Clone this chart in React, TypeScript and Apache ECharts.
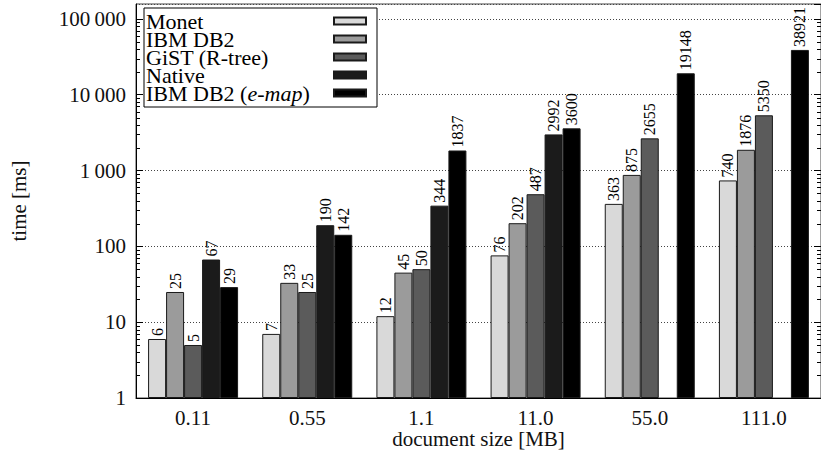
import React, { useEffect, useRef } from 'react';
import * as echarts from 'echarts';

const categories = ['0.11', '0.55', '1.1', '11.0', '55.0', '111.0'];
const seriesNames = ['Monet', 'IBM DB2', 'GiST (R-tree)', 'Native', 'IBM DB2 (e-map)'];
const monet = [6, 7, 12, 76, 363, 740];
const ibmDb2 = [25, 33, 45, 202, 875, 1876];
const gist = [5, 25, 50, 487, 2655, 5350];
const native = [67, 190, 344, 2992, null, null];
const ibmDb2Emap = [29, 142, 1837, 3600, 19148, 38921];
const seriesColors = ['#d9d9d9', '#9b9b9b', '#5b5b5b', '#1b1b1b', '#000000'];
const yMin = 1;
const yMax = 157000;
const minorDecades = [1, 10, 100, 1000, 10000];
const minorFactors = [2, 3, 4, 5, 6, 7, 8, 9];

const FONT = 'Liberation Serif';

function fmtThousands(v: number): string {
  const s = String(Math.round(v));
  return s.replace(/\B(?=(\d{3})+(?!\d))/g, '\u2009');
}

export default function App() {
  const ref = useRef<HTMLDivElement>(null);
  useEffect(() => {
    if (!ref.current) return;
    const chart = echarts.init(ref.current, undefined, { renderer: 'svg' });
    const allSeries = [monet, ibmDb2, gist, native, ibmDb2Emap];
    const minorTickData: number[][] = [];
    minorDecades.forEach((d) => minorFactors.forEach((f) => minorTickData.push([0, d * f])));

    const barSeries = allSeries.map((data, i) => ({
      name: seriesNames[i],
      type: 'bar',
      data,
      barWidth: 18,
      barGap: '0%',
      itemStyle: { color: seriesColors[i], borderColor: '#1a1a1a', borderWidth: 1 },
      label: {
        show: true,
        position: 'top',
        rotate: 90,
        align: 'left',
        verticalAlign: 'middle',
        distance: 3,
        fontFamily: FONT,
        fontSize: 16,
        color: '#000',
      },
    }));

    const option: any = {
      animation: false,
      backgroundColor: '#fff',
      textStyle: { fontFamily: FONT },
      grid: {
        left: 133,
        top: 4,
        bottom: 68,
        width: 692,
        show: true,
        borderColor: '#444',
        borderWidth: 1,
        containLabel: false,
      },
      legend: {
        data: seriesNames.map((n) => ({ name: n, icon: 'rect' })),
        orient: 'vertical',
        align: 'right',
        left: 144,
        top: 8,
        itemWidth: 32,
        itemHeight: 7,
        itemGap: -4,
        padding: [2, 10, 3, 2],
        backgroundColor: '#fff',
        borderColor: '#000',
        borderWidth: 1,
        borderRadius: 0,
        formatter: (name: string) => {
          if (name === 'IBM DB2 (e-map)') return '{n|IBM DB2 (}{i|e-map}{n|)}';
          return '{n|' + name + '}';
        },
        textStyle: {
          width: 183,
          fontFamily: FONT,
          fontSize: 22,
          color: '#000',
          rich: {
            n: { align: 'left', fontFamily: FONT, fontSize: 22, color: '#000' },
            i: { align: 'left', fontFamily: FONT, fontSize: 22, fontStyle: 'italic', color: '#000' },
          },
        },
      },
      xAxis: {
        type: 'category',
        data: categories,
        axisLine: { show: true, lineStyle: { color: '#000', width: 1 } },
        axisTick: { show: false },
        axisLabel: { fontFamily: FONT, fontSize: 21, color: '#111', margin: 9 },
        name: 'document size [MB]',
        nameLocation: 'middle',
        nameGap: 30,
        nameMoveOverlap: false,
        nameTextStyle: { fontFamily: FONT, fontSize: 21, color: '#111' },
      },
      yAxis: [
        {
          type: 'log',
          logBase: 10,
          min: yMin,
          max: yMax,
          axisLine: { show: true, lineStyle: { color: '#000', width: 1 } },
          axisTick: { show: true, inside: true, length: 7, lineStyle: { color: '#000' } },
          axisLabel: {
            fontFamily: FONT,
            fontSize: 21,
            color: '#111',
            margin: 10,
            showMaxLabel: false,
            formatter: (v: number) => fmtThousands(v),
          },
          splitLine: { show: true, lineStyle: { type: [1, 2], color: '#444', width: 1 } },
          name: 'time [ms]',
          nameLocation: 'middle',
          nameGap: 107,
          nameMoveOverlap: false,
          nameTextStyle: { fontFamily: FONT, fontSize: 21, color: '#111' },
        },
        {
          type: 'log',
          logBase: 10,
          min: yMin,
          max: yMax,
          position: 'right',
          axisLine: { show: true, lineStyle: { color: '#000', width: 1 } },
          axisTick: { show: true, inside: true, length: 7, lineStyle: { color: '#000' } },
          axisLabel: { show: false },
          splitLine: { show: false },
        },
      ],
      series: [
        ...barSeries,
        {
          type: 'custom',
          silent: true,
          clip: false,
          data: minorTickData,
          encode: { x: 0, y: 1 },
          z: 5,
          renderItem: (params: any, api: any) => {
            const v = api.value(1);
            const pt = api.coord([0, v]);
            const cs = params.coordSys;
            const y = Math.round(pt[1]) + 0.5;
            return {
              type: 'group',
              children: [
                { type: 'line', shape: { x1: cs.x, y1: y, x2: cs.x + 4, y2: y }, style: { stroke: '#000', lineWidth: 1 } },
                { type: 'line', shape: { x1: cs.x + cs.width - 4, y1: y, x2: cs.x + cs.width, y2: y }, style: { stroke: '#000', lineWidth: 1 } },
              ],
            };
          },
        },
      ],
    };
    chart.setOption(option);
    return () => chart.dispose();
  }, []);
  return <div ref={ref} style={{ width: 821, height: 466, position: 'absolute', left: 0, top: 0 }} />;
}
